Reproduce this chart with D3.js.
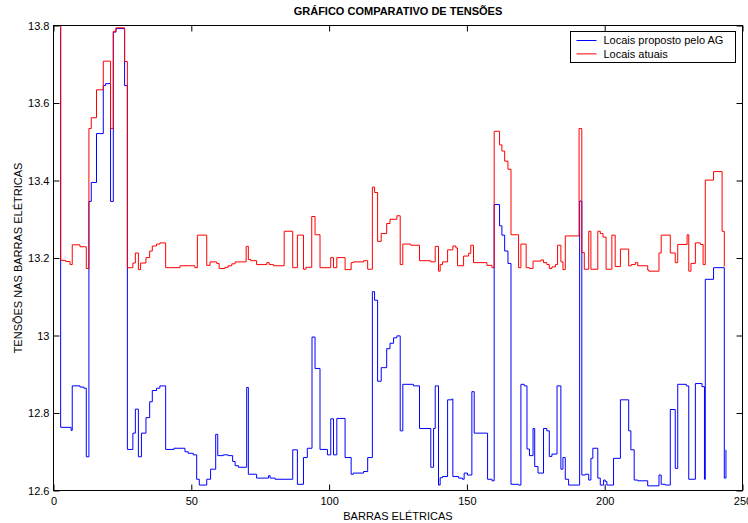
<!DOCTYPE html>
<html>
<head>
<meta charset="utf-8">
<script src="https://cdn.jsdelivr.net/npm/d3@7"></script>
<style>
  body { margin: 0; background: #fff; }
  svg { display: block; font-family: "Liberation Sans", Arial, Helvetica, sans-serif; }
</style>
</head>
<body>
<div id="chart"></div>
<script>
// ─── DATA ────────────────────────────────────────────────────────────
// bus index where each step starts, and the voltage (kV) of that step
const busAG = [0, 2.6, 6.4, 6.8, 9.6, 11.0, 11.9, 12.85, 13.7, 15.6, 18.06, 18.9, 20.7, 21.7, 22.66, 25.8,
  26.8, 28.8, 29.7, 30.8, 31.9, 33.55, 34.9, 35.85, 37.4, 38.6, 40.7, 43.7, 47.7, 48.9, 50.7, 51.95,
  52.9, 55.6, 57.0, 58.85, 59.6, 61.6, 63.4, 65.0, 65.9, 67.1, 70.1, 70.7, 73.7, 78.0, 78.6, 80.4,
  86.8, 88.5, 90.7, 92.1, 93.8, 94.9, 96.7, 99.4, 100.6, 101.6, 102.8, 105.8, 108.0, 108.8, 112.5, 114.0,
  115.7, 116.5, 117.6, 118.9, 120.9, 122.1, 123.4, 124.6, 125.8, 126.75, 130.6, 132.8, 136.9, 137.9, 138.5, 139.7,
  140.3, 141.15, 143.0, 144.5, 144.9, 147.0, 148.4, 149.0, 150.2, 151.8, 152.65, 157.5, 159.1, 159.9, 161.85, 162.7,
  163.7, 164.9, 166.0, 168.75, 169.6, 170.8, 171.8, 172.7, 174.0, 174.6, 175.8, 177.8, 179.0, 179.9, 180.85, 182.7,
  184.1, 184.85, 185.7, 186.9, 190.9, 191.7, 192.95, 194.2, 195.0, 195.7, 197.5, 198.4, 199.6, 200.2, 200.8, 203.2,
  205.7, 208.7, 209.5, 210.7, 212.0, 215.6, 219.7, 220.5, 222.0, 223.8, 225.6, 226.5, 229.6, 230.5, 232.9, 235.3,
  236.2, 236.5, 239.5, 243.4, 244.0];
const voltAG = [13.80, 12.763, 12.755, 12.870, 12.867, 12.864, 12.687, 13.346, 13.395, 13.521, 13.645, 13.650, 13.346, 13.783, 13.792, 13.645,
  12.706, 12.748, 12.810, 12.687, 12.748, 12.788, 12.829, 12.858, 12.864, 12.870, 12.706, 12.709, 12.700, 12.696, 12.692, 12.629,
  12.614, 12.629, 12.655, 12.745, 12.690, 12.692, 12.690, 12.675, 12.664, 12.660, 12.866, 12.642, 12.632, 12.638, 12.632, 12.629,
  12.705, 12.616, 12.685, 12.709, 12.996, 12.915, 12.706, 12.692, 12.785, 12.692, 12.786, 12.685, 12.642, 12.645, 12.649, 12.685,
  13.113, 13.091, 12.882, 12.917, 12.966, 12.980, 12.994, 12.999, 12.754, 12.874, 12.870, 12.760, 12.660, 12.760, 12.870, 12.614,
  12.633, 12.636, 12.834, 12.836, 12.636, 12.632, 12.629, 12.645, 12.640, 12.855, 12.748, 12.629, 12.625, 13.338, 13.283, 13.259,
  13.218, 13.186, 12.616, 12.614, 12.874, 12.870, 12.707, 12.690, 12.760, 12.662, 12.645, 12.760, 12.754, 12.688, 12.694, 12.870,
  12.655, 12.685, 12.629, 12.614, 13.347, 12.640, 12.642, 12.627, 12.683, 12.709, 12.632, 12.614, 12.627, 12.623, 12.614, 12.683,
  12.834, 12.754, 12.705, 12.627, 12.625, 12.612, 12.640, 12.616, 12.614, 12.809, 12.657, 12.874, 12.870, 12.629, 12.876, 12.868,
  12.629, 13.145, 13.175, 12.632, 12.705];

const busAtual = [0, 2.6, 4.4, 6.0, 6.8, 9.6, 11.9, 12.85, 13.7, 15.6, 18.06, 20.7, 21.7, 22.66, 25.8, 26.8,
  28.8, 29.7, 30.8, 31.6, 33.55, 34.9, 35.85, 37.4, 38.6, 40.7, 45.9, 51.3, 52.2, 55.6, 56.8, 59.2,
  60.1, 62.2, 63.4, 64.7, 65.9, 69.9, 70.7, 71.6, 73.7, 77.4, 78.3, 79.8, 83.7, 86.8, 88.5, 90.7,
  91.6, 93.7, 94.9, 96.7, 100.6, 101.6, 102.8, 105.8, 108.0, 108.8, 112.5, 114.0, 115.7, 116.5, 117.6, 118.9,
  120.9, 122.1, 124.6, 125.8, 126.75, 129.65, 132.8, 136.9, 138.5, 139.7, 140.3, 141.15, 143.0, 144.9, 146.0, 146.6,
  148.8, 150.6, 151.4, 152.4, 157.25, 159.1, 159.9, 161.85, 162.7, 163.7, 164.9, 166.0, 168.75, 169.6, 171.5, 172.7,
  174.0, 176.9, 177.8, 179.0, 179.9, 180.85, 182.1, 182.9, 184.1, 184.85, 185.7, 190.7, 191.7, 192.6, 194.2, 195.0,
  197.5, 198.4, 199.4, 200.5, 202.6, 203.8, 205.7, 208.7, 209.65, 211.1, 212.0, 215.6, 216.0, 219.7, 220.5, 223.8,
  225.6, 226.5, 229.9, 230.5, 231.3, 232.9, 234.7, 235.7, 236.5, 239.5, 242.6, 243.4];
const voltAtual = [13.80, 13.194, 13.191, 13.183, 13.234, 13.229, 13.173, 13.534, 13.562, 13.634, 13.708, 13.534, 13.785, 13.794, 13.707, 13.175,
  13.187, 13.213, 13.170, 13.187, 13.201, 13.218, 13.231, 13.236, 13.239, 13.175, 13.180, 13.175, 13.259, 13.181, 13.190, 13.186,
  13.173, 13.176, 13.180, 13.185, 13.190, 13.230, 13.196, 13.193, 13.183, 13.188, 13.183, 13.180, 13.269, 13.175, 13.259, 13.171,
  13.176, 13.307, 13.260, 13.175, 13.201, 13.175, 13.201, 13.170, 13.188, 13.190, 13.193, 13.171, 13.383, 13.369, 13.243, 13.263,
  13.289, 13.300, 13.309, 13.183, 13.236, 13.233, 13.193, 13.190, 13.230, 13.166, 13.183, 13.190, 13.221, 13.231, 13.226, 13.180,
  13.205, 13.212, 13.233, 13.188, 13.181, 13.175, 13.527, 13.492, 13.476, 13.450, 13.429, 13.260, 13.175, 13.236, 13.175, 13.173,
  13.192, 13.195, 13.188, 13.183, 13.173, 13.177, 13.183, 13.233, 13.190, 13.170, 13.257, 13.534, 13.214, 13.171, 13.269, 13.171,
  13.269, 13.263, 13.254, 13.171, 13.259, 13.178, 13.223, 13.180, 13.183, 13.188, 13.180, 13.169, 13.166, 13.213, 13.259, 13.213,
  13.188, 13.235, 13.260, 13.166, 13.186, 13.239, 13.235, 13.183, 13.401, 13.423, 13.269, 13.178];

const xTicks = [0, 50, 100, 150, 200, 250];
const yTicks = [12.6, 12.8, 13, 13.2, 13.4, 13.6, 13.8];
const seriesNames = ['Locais proposto pelo AG', 'Locais atuais'];
const seriesColors = ['#0000ff', '#ff0000'];

// ─── LAYOUT ──────────────────────────────────────────────────────────
const W = 748, H = 523;
const MARGIN = { TOP: 25.5, RIGHT: 5.5, BOTTOM: 32.5, LEFT: 53.5 };
const WIDTH = W - MARGIN.LEFT - MARGIN.RIGHT;
const HEIGHT = H - MARGIN.TOP - MARGIN.BOTTOM;
const TICK = 6;

const svg = d3.select('#chart').append('svg')
  .attr('width', W)
  .attr('height', H);

svg.append('rect').attr('width', W).attr('height', H).attr('fill', '#fff');

const g = svg.append('g')
  .attr('transform', `translate(${MARGIN.LEFT}, ${MARGIN.TOP})`);

// scales
const x = d3.scaleLinear().domain([0, 250]).range([0, WIDTH]);
const y = d3.scaleLinear().domain([12.6, 13.8]).range([HEIGHT, 0]);

g.append('clipPath').attr('id', 'plot-clip')
  .append('rect').attr('width', WIDTH).attr('height', HEIGHT);

// ─── AXES (inward ticks on all four sides) ───────────────────────────
function styleAxis(sel) {
  sel.select('.domain').remove();
  sel.selectAll('line').attr('stroke', '#000');
  sel.selectAll('text')
    .attr('fill', '#000')
    .style('font-size', '11px')
    .style('font-family', '"Liberation Sans", Arial, sans-serif');
}

g.append('g')
  .attr('transform', `translate(0, ${HEIGHT})`)
  .call(d3.axisBottom(x).tickValues(xTicks).tickSizeInner(-TICK).tickSizeOuter(0).tickPadding(7))
  .call(styleAxis);

g.append('g')
  .call(d3.axisTop(x).tickValues(xTicks).tickSizeInner(-TICK).tickSizeOuter(0).tickFormat(''))
  .call(styleAxis);

g.append('g')
  .call(d3.axisLeft(y).tickValues(yTicks).tickSizeInner(-TICK).tickSizeOuter(0).tickPadding(4)
    .tickFormat(d => String(d)))
  .call(styleAxis);

g.append('g')
  .attr('transform', `translate(${WIDTH}, 0)`)
  .call(d3.axisRight(y).tickValues(yTicks).tickSizeInner(-TICK).tickSizeOuter(0).tickFormat(''))
  .call(styleAxis);

// ─── STAIRS ──────────────────────────────────────────────────────────
const stairs = d3.line()
  .x(d => x(d[0]))
  .y(d => y(d[1]))
  .curve(d3.curveStepAfter);

const series = [
  d3.zip(busAG, voltAG),
  d3.zip(busAtual, voltAtual)
];

g.append('g').attr('clip-path', 'url(#plot-clip)')
  .selectAll('path')
  .data(series)
  .join('path')
    .attr('d', stairs)
    .attr('fill', 'none')
    .attr('stroke', (d, i) => seriesColors[i])
    .attr('stroke-width', 1);

// frame
g.append('rect')
  .attr('width', WIDTH)
  .attr('height', HEIGHT)
  .attr('fill', 'none')
  .attr('stroke', '#000');

// ─── LABELS ──────────────────────────────────────────────────────────
svg.append('text')
  .attr('x', MARGIN.LEFT + WIDTH / 2)
  .attr('y', 15)
  .attr('text-anchor', 'middle')
  .style('font-size', '11px')
  .style('font-weight', 'bold')
  .text('GRÁFICO COMPARATIVO DE TENSÕES');

svg.append('text')
  .attr('x', MARGIN.LEFT + WIDTH / 2)
  .attr('y', 519.5)
  .attr('text-anchor', 'middle')
  .style('font-size', '11px')
  .text('BARRAS ELÉTRICAS');

svg.append('text')
  .attr('transform', `translate(22, ${MARGIN.TOP + HEIGHT / 2}) rotate(-90)`)
  .attr('text-anchor', 'middle')
  .style('font-size', '11px')
  .text('TENSÕES NAS BARRAS ELÉTRICAS');

// ─── LEGEND ──────────────────────────────────────────────────────────
const legend = svg.append('g').attr('transform', 'translate(570.5, 31.5)');

legend.append('rect')
  .attr('width', 165)
  .attr('height', 31)
  .attr('fill', '#fff')
  .attr('stroke', '#000');

const rows = legend.selectAll('g.row')
  .data(seriesNames)
  .join('g')
    .attr('class', 'row')
    .attr('transform', (d, i) => `translate(0, ${9 + i * 13.4})`);

rows.append('line')
  .attr('x1', 6).attr('x2', 26)
  .attr('stroke', (d, i) => seriesColors[i]);

rows.append('text')
  .attr('x', 33)
  .attr('dy', '0.35em')
  .style('font-size', '11px')
  .text(d => d);
</script>
</body>
</html>
